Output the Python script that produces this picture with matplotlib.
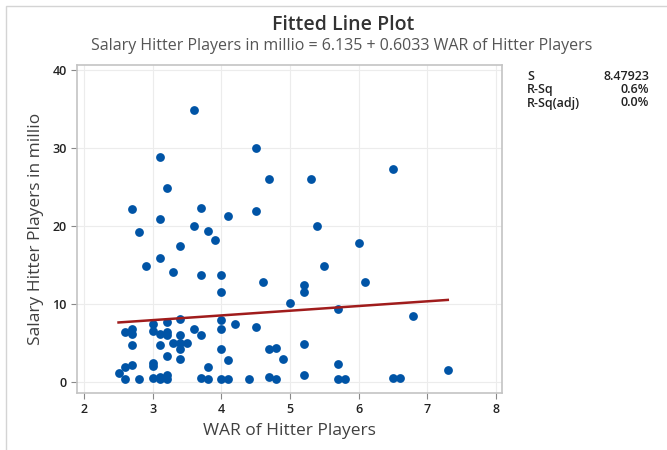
"""
Fitted line plot: hitter salary vs WAR.
"""

import numpy as np
import matplotlib.pyplot as plt
from matplotlib.patches import Rectangle

plt.rcParams['font.family'] = ['Open Sans', 'DejaVu Sans']

# WAR and salary (millions)
war = [3.6, 4.5, 3.1, 6.5, 4.7, 5.3, 3.2, 3.7, 2.7, 4.5, 4.1, 3.1, 3.6, 5.4,
       3.8, 2.8, 3.9, 6.0, 3.4, 3.1, 2.9, 5.5, 3.3, 4.0, 3.7, 4.6, 6.1, 5.2,
       4.0, 5.2, 5.0, 5.7,
       6.8, 3.4, 3.2, 4.0, 3.0, 4.2, 4.5, 2.7, 3.6, 4.0, 3.0, 2.6, 3.2, 3.1,
       2.7, 3.2, 3.4, 3.7, 3.5, 3.3, 3.4, 2.7, 3.1, 3.4, 4.0, 4.7, 4.8, 5.2,
       3.2, 3.4, 4.1, 4.9, 3.0, 2.7, 5.7, 3.0, 2.6, 3.8, 7.3, 2.5, 3.2, 3.1,
       5.2, 4.7, 6.5, 6.6,
       2.6, 2.8, 3.0, 3.1, 3.2, 3.7, 3.8, 4.0, 4.1, 4.4, 4.8, 5.7, 5.8]
salary = [34.9, 30.0, 28.9, 27.4, 26.0, 26.0, 24.9, 22.3, 22.2, 21.9, 21.3,
          20.9, 20.0, 20.0, 19.4, 19.2, 18.2, 17.9, 17.4, 15.9, 14.9, 14.9,
          14.1, 13.8, 13.7, 12.9, 12.9, 12.4, 11.6, 11.6, 10.1, 9.4,
          8.5, 8.1, 7.7, 7.9, 7.5, 7.4, 7.1, 6.8, 6.8, 6.8, 6.5, 6.4, 6.4,
          6.2, 6.1, 6.0, 6.0, 6.0, 5.0, 5.0, 5.0, 4.8, 4.7, 4.2, 4.3, 4.3,
          4.4, 4.9,
          3.4, 3.0, 2.8, 2.9, 2.4, 2.2, 2.3, 2.0, 1.9, 1.9, 1.6, 1.2, 0.9,
          0.7, 0.9, 0.6, 0.55, 0.55,
          0.4, 0.4, 0.5, 0.4, 0.4, 0.5, 0.4, 0.4, 0.4, 0.4, 0.4, 0.4, 0.4]

intercept = 6.135
slope = 0.6033
stat_names = ['S', 'R-Sq', 'R-Sq(adj)']
stat_values = ['8.47923', '0.6%', '0.0%']

fig = plt.figure(figsize=(6.67, 4.5), dpi=100)
ax = fig.add_axes([0.1154, 0.1267, 0.6372, 0.7289])

# outer panel border
fig.patches.append(Rectangle((6 / 667, -0.1), 1.1, 1 - 6 / 450 + 0.1,
                             transform=fig.transFigure, fill=False,
                             edgecolor='#d4d4d4', linewidth=1))

ax.scatter(war, salary, s=40, color='#0054a6', zorder=3, linewidths=0)

x_fit = np.array([min(war), max(war)])
ax.plot(x_fit, intercept + slope * x_fit, color='#a01c1c', linewidth=1.8, zorder=4)

ax.set_xlim(1.894, 8.09)
ax.set_ylim(-1.41, 40.7)
ax.set_xticks(range(2, 9))
ax.set_yticks(range(0, 41, 10))
ax.grid(True, color='#ececec', linewidth=0.8)
ax.set_axisbelow(True)
for sp in ax.spines.values():
    sp.set_color('#c4c4c4')
    sp.set_linewidth(1.2)
ax.tick_params(labelcolor='#222222', labelsize=9, length=4, width=0.8, color='#888888')
for lbl in ax.get_xticklabels() + ax.get_yticklabels():
    lbl.set_fontweight('semibold')

ax.set_xlabel('WAR of Hitter Players', fontsize=12.5, color='#404040', labelpad=5)
ax.set_ylabel('Salary Hitter Players in millio', fontsize=12.5, color='#404040', labelpad=6)

fig.text(0.514, 1 - 25 / 450, 'Fitted Line Plot', ha='center', va='center',
         fontsize=14, fontweight='semibold', color='#333333')
fig.text(0.513, 1 - 46 / 450,
         'Salary Hitter Players in millio = 6.135 + 0.6033 WAR of Hitter Players',
         ha='center', va='center', fontsize=11.5, color='#555555')

for i, (name, val) in enumerate(zip(stat_names, stat_values)):
    y = 1 - (76 + i * 13.5) / 450
    fig.text(527 / 667, y, name, ha='left', va='center', fontsize=9,
             fontweight='semibold', color='#222222')
    fig.text(649 / 667, y, val, ha='right', va='center', fontsize=9,
             fontweight='semibold', color='#222222')

fig.savefig('out.png', dpi=100)
